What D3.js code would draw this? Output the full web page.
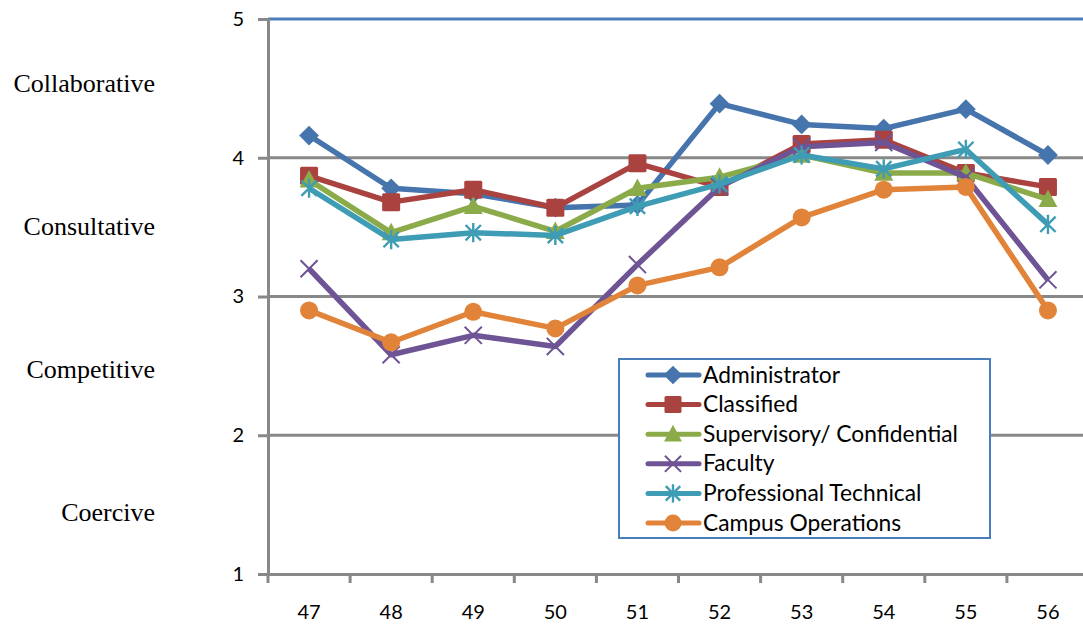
<!DOCTYPE html>
<html>
<head>
<meta charset="utf-8">
<script src="https://cdn.jsdelivr.net/npm/d3@7"></script>
<style>
  html, body { margin: 0; padding: 0; background: #fff; }
  svg { display: block; }
</style>
</head>
<body>
<svg id="chart" width="1083" height="625"></svg>
<script>
// Survey items on the horizontal axis
const categories = ["47", "48", "49", "50", "51", "52", "53", "54", "55", "56"];

// Mean scores per employee group
const administrator = [4.16, 3.78, 3.74, 3.64, 3.66, 4.39, 4.24, 4.21, 4.35, 4.02];
const classified    = [3.87, 3.68, 3.77, 3.64, 3.96, 3.79, 4.10, 4.13, 3.89, 3.79];
const supervisory   = [3.84, 3.46, 3.65, 3.47, 3.78, 3.86, 4.02, 3.89, 3.89, 3.70];
const faculty       = [3.20, 2.58, 2.72, 2.64, 3.23, 3.79, 4.08, 4.11, 3.86, 3.12];
const profTech      = [3.78, 3.41, 3.46, 3.44, 3.65, 3.81, 4.02, 3.92, 4.06, 3.52];
const campusOps     = [2.90, 2.67, 2.89, 2.77, 3.08, 3.21, 3.57, 3.77, 3.79, 2.90];

const seriesNames = ["Administrator", "Classified", "Supervisory/ Confidential", "Faculty", "Professional Technical", "Campus Operations"];
const seriesValues = [administrator, classified, supervisory, faculty, profTech, campusOps];

// Value axis ticks and the climate levels printed beside them
const yTicks = [1, 2, 3, 4, 5];
const levelNames = ["Collaborative", "Consultative", "Competitive", "Coercive"];

const colors = ["#4674AC", "#AA423F", "#8BAB4B", "#6F5495", "#3F9CB5", "#E1843A"];
const markerKinds = ["diamond", "square", "triangle", "cross", "asterisk", "circle"];

const svg = d3.select("#chart");
const plot = { left: 268, right: 1089, top: 19, bottom: 574 };

const x = d3.scaleBand().domain(categories).range([plot.left, plot.right]);
const y = d3.scaleLinear().domain([1, 5]).range([plot.bottom, plot.top]);

const sansFont = "Lato, 'Open Sans', sans-serif";

// Horizontal gridlines
svg.append("g")
  .selectAll("line")
  .data(yTicks.filter(t => t > 1 && t < 5))
  .join("line")
  .attr("x1", plot.left).attr("x2", 1083)
  .attr("y1", d => y(d)).attr("y2", d => y(d))
  .attr("stroke", "#888").attr("stroke-width", 3);

// Plot area top edge
svg.append("line")
  .attr("x1", plot.left).attr("x2", 1083)
  .attr("y1", y(5)).attr("y2", y(5))
  .attr("stroke", "#4A7EBB").attr("stroke-width", 3);

// Y axis
const yAxis = svg.append("g")
  .attr("transform", `translate(${plot.left},0)`)
  .call(d3.axisLeft(y).tickValues(yTicks).tickFormat(d3.format("d")).tickSize(10).tickPadding(14));
yAxis.select(".domain").attr("stroke", "#888").attr("stroke-width", 3);
yAxis.selectAll(".tick line").attr("stroke", "#888").attr("stroke-width", 3);
yAxis.selectAll(".tick text")
  .attr("font-family", sansFont)
  .attr("font-size", 20).attr("fill", "#000");

// X axis
svg.append("line")
  .attr("x1", plot.left).attr("x2", 1083)
  .attr("y1", plot.bottom + 1).attr("y2", plot.bottom + 1)
  .attr("stroke", "#4A7EBB").attr("stroke-width", 2);
const xAxis = svg.append("g")
  .attr("transform", `translate(0,${plot.bottom})`)
  .call(d3.axisBottom(x).tickSize(0).tickPadding(31));
xAxis.select(".domain").attr("stroke", "#888").attr("stroke-width", 3);
xAxis.selectAll(".tick text")
  .attr("font-family", sansFont)
  .attr("font-size", 20).attr("fill", "#000");
// Tick marks at band boundaries
svg.append("g")
  .selectAll("line")
  .data(categories)
  .join("line")
  .attr("x1", d => x(d)).attr("x2", d => x(d))
  .attr("y1", plot.bottom).attr("y2", plot.bottom + 9)
  .attr("stroke", "#888").attr("stroke-width", 3);

// Climate level labels, one per band between the gridlines
svg.append("g")
  .selectAll("text")
  .data(levelNames)
  .join("text")
  .attr("x", 155)
  .attr("y", (d, i) => 92 + i * 143)
  .attr("text-anchor", "end")
  .attr("font-family", "'Liberation Serif', 'Times New Roman', serif")
  .attr("font-size", 26)
  .attr("fill", "#000")
  .text(d => d);

// Marker drawing
function drawMarker(g, kind, color, cx, cy, s) {
  const r = s / 2;
  if (kind === "diamond") {
    g.append("path").attr("d", `M${cx},${cy - r * 1.1}L${cx + r * 1.1},${cy}L${cx},${cy + r * 1.1}L${cx - r * 1.1},${cy}Z`).attr("fill", color);
  } else if (kind === "square") {
    g.append("rect").attr("x", cx - r).attr("y", cy - r).attr("width", s).attr("height", s).attr("rx", 1.5).attr("fill", color);
  } else if (kind === "triangle") {
    g.append("path").attr("d", `M${cx},${cy - r * 1.1}L${cx + r * 1.05},${cy + r * 0.85}L${cx - r * 1.05},${cy + r * 0.85}Z`).attr("fill", color);
  } else if (kind === "cross") {
    const k = r * 0.95;
    g.append("path").attr("d", `M${cx - k},${cy - k}L${cx + k},${cy + k}M${cx + k},${cy - k}L${cx - k},${cy + k}`)
      .attr("stroke", color).attr("stroke-width", 2).attr("fill", "none");
  } else if (kind === "asterisk") {
    const k = r * 0.85;
    g.append("path").attr("d", `M${cx - k},${cy - k}L${cx + k},${cy + k}M${cx + k},${cy - k}L${cx - k},${cy + k}M${cx},${cy - k * 1.25}L${cx},${cy + k * 1.25}`)
      .attr("stroke", color).attr("stroke-width", 2.4).attr("fill", "none");
  } else {
    g.append("circle").attr("cx", cx).attr("cy", cy).attr("r", r).attr("fill", color);
  }
}

const line = d3.line()
  .x((d, i) => x(categories[i]) + x.bandwidth() / 2)
  .y(d => y(d));

// Series lines and markers
seriesValues.forEach((vals, si) => {
  const g = svg.append("g");
  g.append("path")
    .datum(vals)
    .attr("d", line)
    .attr("fill", "none")
    .attr("stroke", colors[si])
    .attr("stroke-width", 5.5)
    .attr("stroke-linejoin", "round");
  vals.forEach((v, i) => {
    drawMarker(g, markerKinds[si], colors[si], x(categories[i]) + x.bandwidth() / 2, y(v), 18);
  });
});

// Legend
const legend = svg.append("g");
legend.append("rect")
  .attr("x", 619).attr("y", 359).attr("width", 371).attr("height", 179)
  .attr("fill", "#fff").attr("stroke", "#4A7EBB").attr("stroke-width", 2);
seriesNames.forEach((name, si) => {
  const ly = 375 + si * 29.6;
  const row = legend.append("g");
  row.append("line")
    .attr("x1", 648).attr("x2", 699).attr("y1", ly).attr("y2", ly)
    .attr("stroke", colors[si]).attr("stroke-width", 5).attr("stroke-linecap", "round");
  drawMarker(row, markerKinds[si], colors[si], 673, ly, 17);
  row.append("text")
    .attr("x", 703).attr("y", ly + 7.5)
    .attr("font-family", sansFont)
    .attr("font-size", 22.8).attr("fill", "#000")
    .text(name);
});
</script>
</body>
</html>
